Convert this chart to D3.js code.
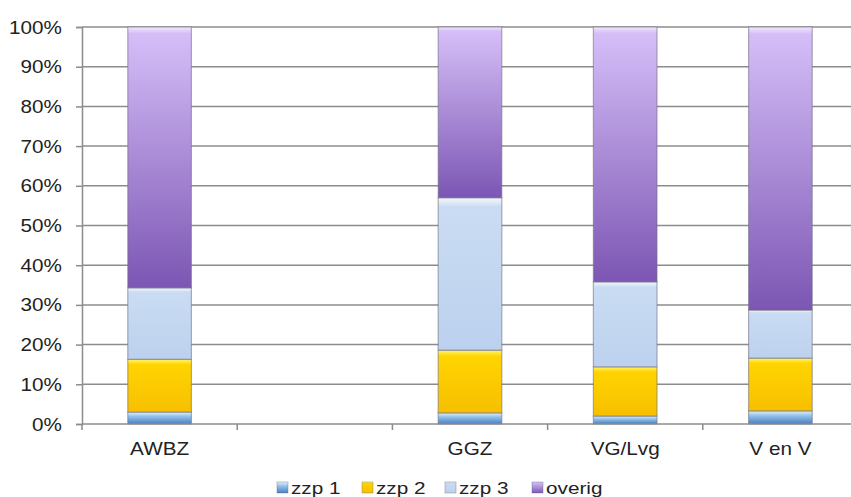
<!DOCTYPE html>
<html>
<head>
<meta charset="utf-8">
<script src="https://cdn.jsdelivr.net/npm/d3@7"></script>
<style>
  body { margin: 0; background: #fff; }
  svg { display: block; overflow: hidden; }
  text { font-family: "Liberation Sans", Arial, sans-serif; fill: #222; }
</style>
</head>
<body>
<script>
// chart data (percent shares per category)
const categories = ['AWBZ', '', 'GGZ', 'VG/Lvg', 'V en V']
const seriesNames = ['zzp 1', 'zzp 2', 'zzp 3', 'overig']
const zzp1 = [3.0, 0, 2.8, 2.0, 3.3]
const zzp2 = [13.3, 0, 15.8, 12.4, 13.3]
const zzp3 = [18.0, 0, 38.4, 21.4, 12.1]
const overig = [65.7, 0, 43.0, 64.2, 71.3]
const yTicks = [0, 10, 20, 30, 40, 50, 60, 70, 80, 90, 100]

const W = 851, H = 497
const margin = { top: 27, left: 82, bottom: 73 }
const stretch = 1.15

const svg = d3.select('body').append('svg')
    .attr('width', W)
    .attr('height', H)

const defs = svg.append('defs')

// gradients imitating the bevelled office style
const grads = {
    'zzp 1': [[0, '#e2f1fb'], [0.35, '#94c4ec'], [1, '#4a7dc0']],
    'zzp 2': [[0, '#fff66e'], [0.1, '#ffd400'], [1, '#f7bf00']],
    'zzp 3': [[0, '#f6f9fd'], [0.06, '#cadcf3'], [1, '#bcd1ee']],
    'overig': [[0, '#f1e8fd'], [0.025, '#d5bef8'], [1, '#7c56b3']]
}
const color = {}
seriesNames.forEach((s, i) => {
    const g = defs.append('linearGradient')
        .attr('id', 'g' + i)
        .attr('x1', 0).attr('y1', 0).attr('x2', 0).attr('y2', 1)
    grads[s].forEach(([o, c]) => g.append('stop').attr('offset', o).attr('stop-color', c))
    color[s] = `url(#g${i})`
})

const rows = categories.map((c, i) => ({
    cat: c,
    'zzp 1': zzp1[i], 'zzp 2': zzp2[i], 'zzp 3': zzp3[i], 'overig': overig[i]
}))
const stacked = d3.stack().keys(seriesNames)(rows)

const xScale = d3.scaleBand()
    .domain(d3.range(categories.length))
    .range([margin.left, 858])

const yScale = d3.scaleLinear()
    .domain([0, 100])
    .range([H - margin.bottom - 0, margin.top])

const y0 = yScale(0)

// gridlines
svg.append('g')
    .selectAll('line')
    .data(yTicks.slice(1))
    .join('line')
    .attr('x1', margin.left).attr('x2', W)
    .attr('y1', d => yScale(d)).attr('y2', d => yScale(d))
    .attr('stroke', '#8c8c8c')
    .attr('stroke-width', 1.5)

// y axis
const yAxis = d3.axisLeft(yScale)
    .tickValues(yTicks)
    .tickSize(6)
    .tickFormat(d => d + '%')
const gy = svg.append('g')
    .attr('transform', `translate(${margin.left},0)`)
    .call(yAxis)
gy.select('.domain').attr('stroke', '#8c8c8c').attr('stroke-width', 1.5)
gy.selectAll('.tick line').attr('stroke', '#8c8c8c').attr('stroke-width', 1.5)
gy.selectAll('.tick text')
    .attr('x', 0).attr('dy', null)
    .attr('transform', `translate(-20,6) scale(${stretch},1)`)
    .style('font-size', '18px')
    .attr('fill', '#222')

// bars
const barW = xScale.bandwidth() * 0.41
svg.append('g')
    .selectAll('g')
    .data(stacked)
    .join('g')
    .attr('fill', d => color[d.key])
    .selectAll('rect')
    .data(d => d.filter(v => v[1] - v[0] > 0))
    .join('rect')
    .attr('x', d => xScale(categories.indexOf(d.data.cat)) + (xScale.bandwidth() - barW) / 2)
    .attr('width', barW)
    .attr('y', d => yScale(d[1]))
    .attr('height', d => yScale(d[0]) - yScale(d[1]))
    .attr('stroke', 'rgba(110,110,130,0.55)')
    .attr('stroke-width', 1.2)

// x axis line and boundary ticks
svg.append('line')
    .attr('x1', margin.left).attr('x2', W)
    .attr('y1', y0).attr('y2', y0)
    .attr('stroke', '#8c8c8c').attr('stroke-width', 1.5)
svg.append('g')
    .selectAll('line')
    .data(d3.range(categories.length))
    .join('line')
    .attr('x1', d => xScale(d)).attr('x2', d => xScale(d))
    .attr('y1', y0).attr('y2', y0 + 6)
    .attr('stroke', '#8c8c8c').attr('stroke-width', 1.5)

// category labels
svg.append('g')
    .selectAll('text')
    .data(categories)
    .join('text')
    .attr('transform', (d, i) => `translate(${xScale(i) + xScale.bandwidth() / 2},${y0 + 31}) scale(${stretch},1)`)
    .attr('text-anchor', 'middle')
    .style('font-size', '18px')
    .text(d => d)

// legend
const legendX = [277, 362, 445, 532]
const legend = svg.append('g')
    .selectAll('g')
    .data(seriesNames)
    .join('g')
    .attr('transform', (d, i) => `translate(${legendX[i]},482)`)
legend.append('rect')
    .attr('width', 11).attr('height', 11)
    .attr('fill', d => color[d])
    .attr('stroke', 'rgba(110,110,130,0.4)')
legend.append('text')
    .attr('transform', `translate(14,12) scale(1.22,1)`)
    .style('font-size', '17px')
    .text(d => d)
</script>
</body>
</html>
